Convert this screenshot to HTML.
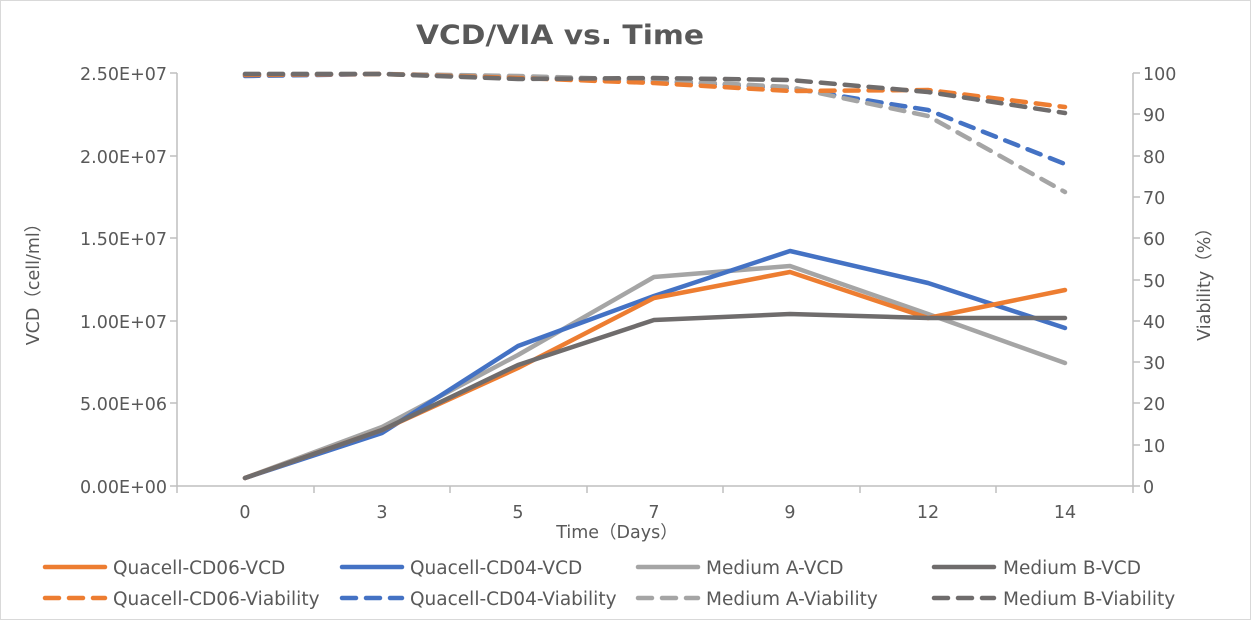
<!DOCTYPE html>
<html><head><meta charset="utf-8"><style>
body{margin:0;background:#fff}
svg text{font-family:"DejaVu Sans","Noto Sans CJK SC",sans-serif;fill:#595959}
</style></head><body>
<svg width="1251" height="620" xmlns="http://www.w3.org/2000/svg">
<rect x="0.5" y="0.5" width="1250" height="619" fill="#fff" stroke="#d9d9d9"/>
<text x="560" y="44" font-size="27" font-weight="bold" text-anchor="middle" textLength="288" lengthAdjust="spacingAndGlyphs">VCD/VIA vs. Time</text>
<g stroke="#bfbfbf" stroke-width="1.5" fill="none">
<path d="M177 73V486M170 73H177M170 156H177M170 238H177M170 321H177M170 403H177M170 486H177"/>
<path d="M1133 73V486M1133 73H1140M1133 114H1140M1133 156H1140M1133 197H1140M1133 238H1140M1133 280H1140M1133 321H1140M1133 362H1140M1133 403H1140M1133 445H1140M1133 486H1140"/>
<path d="M177 486H1133M177 486v7M314 486v7M450 486v7M587 486v7M723 486v7M860 486v7M996 486v7M1133 486v7"/>
</g>
<g font-size="17.5" text-anchor="end">
<text x="167" y="80">2.50E+07</text><text x="167" y="163">2.00E+07</text><text x="167" y="245">1.50E+07</text><text x="167" y="328">1.00E+07</text><text x="167" y="410">5.00E+06</text><text x="167" y="493">0.00E+00</text>
</g>
<g font-size="17.5">
<text x="1143" y="80">100</text><text x="1143" y="121">90</text><text x="1143" y="163">80</text><text x="1143" y="204">70</text><text x="1143" y="245">60</text><text x="1143" y="287">50</text><text x="1143" y="328">40</text><text x="1143" y="369">30</text><text x="1143" y="410">20</text><text x="1143" y="452">10</text><text x="1143" y="493">0</text>
</g>
<g font-size="17.5" text-anchor="middle">
<text x="245" y="518">0</text><text x="382" y="518">3</text><text x="518" y="518">5</text><text x="654" y="518">7</text><text x="790" y="518">9</text><text x="928" y="518">12</text><text x="1065" y="518">14</text>
<text x="617" y="538">Time（Days）</text>
<text transform="translate(39,280) rotate(-90)">VCD（cell/ml）</text>
<text transform="translate(1210,280) rotate(-90)">Viability（%）</text>
</g>
<g fill="none" stroke-width="4.5" stroke-linejoin="round" stroke-linecap="round">
<polyline stroke="#a5a5a5" points="245,478 382,427 518,355 654,277 790,266 928,314 1065,363"/>
<polyline stroke="#4472c4" points="245,478 382,433 518,346 654,296 790,251 928,283 1065,328"/>
<polyline stroke="#ed7d31" points="245,478 382,430 518,368 654,298 790,272 928,318 1065,290"/>
<polyline stroke="#6f6c6c" points="245,478 382,430 518,365 654,320 790,314 928,318 1065,318"/>
</g>
<g fill="none" stroke-width="4.5" stroke-linejoin="round" stroke-linecap="round" stroke-dasharray="14 10">
<polyline stroke="#4472c4" points="245,76 382,74 518,77 654,81 790,88 928,110 1065,164"/>
<polyline stroke="#a5a5a5" points="245,74 382,74 518,76 654,80 790,87 928,116 1065,192"/>
<polyline stroke="#ed7d31" points="245,75 382,74 518,78 654,83 790,91 928,90 1065,107"/>
<polyline stroke="#6f6c6c" points="245,74 382,74 518,79 654,78 790,80 928,92 1065,113"/>
</g>
<g stroke-width="4.5" stroke-linecap="round">
<line x1="45" y1="567" x2="105" y2="567" stroke="#ed7d31"/>
<line x1="342" y1="567" x2="402" y2="567" stroke="#4472c4"/>
<line x1="638" y1="567" x2="698" y2="567" stroke="#a5a5a5"/>
<line x1="934" y1="567" x2="994" y2="567" stroke="#6f6c6c"/>
<g stroke-dasharray="14 10">
<line x1="45" y1="598" x2="105" y2="598" stroke="#ed7d31"/>
<line x1="342" y1="598" x2="402" y2="598" stroke="#4472c4"/>
<line x1="638" y1="598" x2="698" y2="598" stroke="#a5a5a5"/>
<line x1="934" y1="598" x2="994" y2="598" stroke="#6f6c6c"/>
</g></g>
<g font-size="18.5">
<text x="113" y="574">Quacell-CD06-VCD</text><text x="410" y="574">Quacell-CD04-VCD</text><text x="706" y="574">Medium A-VCD</text><text x="1003" y="574">Medium B-VCD</text>
<text x="113" y="605">Quacell-CD06-Viability</text><text x="410" y="605">Quacell-CD04-Viability</text><text x="706" y="605">Medium A-Viability</text><text x="1003" y="605">Medium B-Viability</text>
</g>
</svg>
</body></html>
